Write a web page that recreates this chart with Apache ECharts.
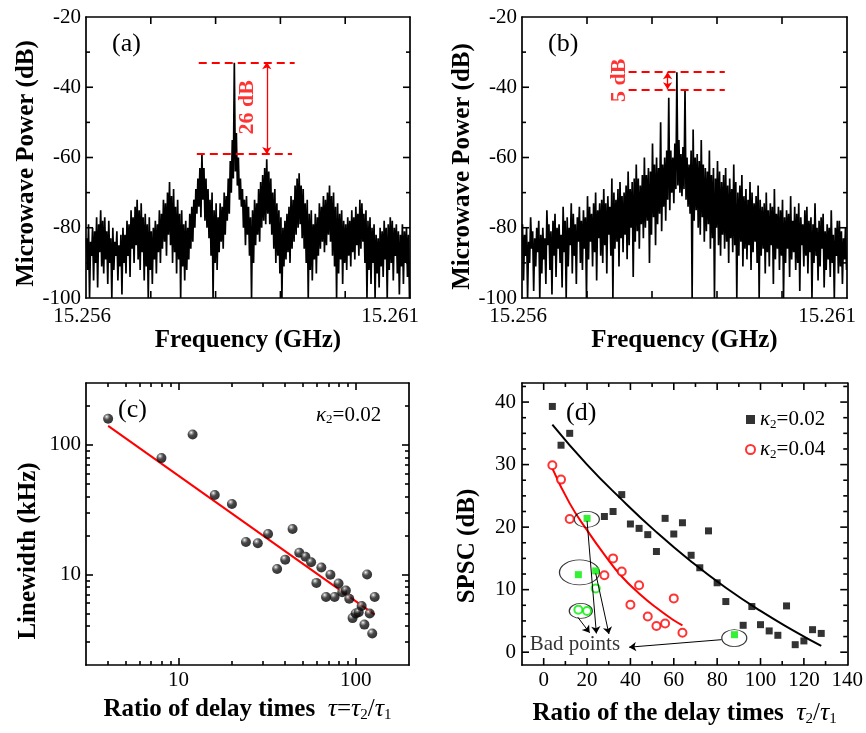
<!DOCTYPE html>
<html><head><meta charset="utf-8">
<script src="https://cdn.jsdelivr.net/npm/echarts@6/dist/echarts.min.js"></script>
<style>html,body{margin:0;padding:0;background:#fff}#c{width:866px;height:733px}</style>
</head><body><div id="c"></div>
<script>
const FONT = "'Liberation Serif','Times New Roman',Times,serif";

// ---------- Panels (a),(b): spectra ----------
const freqRange = [15.256, 15.261];
const freqTickLabels = ['15.256', '15.261'];
const powerRange = [-100, -20];
const freqTicks = [15.257, 15.258, 15.259, 15.260];
const powerMajor = [-80, -60, -40];
const powerMinor = [-90, -70, -50, -30];

const specA_hi = [
 -83,-79,-84,-80,-81,-77,-79,-75,-78,-77,
 -81,-78,-83,-80,-84,-81,-85,-82,-80,-82,
 -78,-79,-75,-77,-74,-72,-75,-73,-77,-76,
 -79,-77,-81,-80,-78,-79,-75,-76,-72,-73,
 -70,-67,-71,-69,-74,-72,-76,-75,-79,-78,
 -80,-76,-74,-72,-69,-66,-63,-59,-63,-66,
 -69,-72,-70,-75,-73,-77,-73,-74,-70,-71,
 -66,-61,-55,-33,-53,-60,-66,-69,-72,-71,
 -74,-77,-75,-72,-73,-69,-67,-65,-63,-60.5,
 -64,-66,-70,-69,-73,-75,-77,-80,-78,-76,
 -74,-71,-72,-68,-66,-64.5,-68,-69,-73,-72,
 -76,-75,-79,-76,-77,-73,-74,-71,-72,-70,
 -68,-71,-70,-74,-73,-76,-75,-78,-79,-77,
 -78,-75,-77,-74,-76,-72,-73,-76,-75,-78,
 -77,-80,-79,-82,-83,-80,-81,-78,-80,-79,
 -77,-78,-80,-79,-81,-82,-79,-81,-80,-82
];
const specA_lo = [
 -92,-100,-88,-95,-90,-97,-87,-91,-93,-89,
 -96,-90,-100,-92,-88,-95,-91,-99,-90,-93,
 -88,-94,-86,-90,-85,-89,-92,-87,-95,-91,
 -100,-92,-96,-89,-93,-87,-90,-86,-84,-88,
 -82,-85,-90,-87,-93,-89,-100,-91,-95,-92,
 -89,-86,-84,-80,-76,-74,-77,-72,-78,-80,
 -83,-88,-100,-90,-92,-87,-84,-86,-82,-78,
 -76,-70,-66,-64,-68,-72,-74,-80,-85,-82,
 -88,-100,-90,-85,-82,-84,-80,-78,-79,-76,
 -79,-82,-86,-90,-88,-93,-100,-91,-89,-87,
 -90,-86,-84,-82,-80,-79,-83,-86,-90,-100,
 -92,-95,-89,-93,-88,-86,-84,-87,-85,-82,
 -84,-88,-91,-100,-93,-89,-96,-90,-92,-88,
 -91,-87,-89,-85,-88,-86,-84,-90,-100,-92,
 -96,-90,-100,-93,-97,-91,-94,-89,-100,-92,
 -90,-95,-88,-93,-99,-91,-96,-90,-94,-100
];
const specB_hi = [
 -79,-82,-80,-84,-77,-81,-83,-80,-78,-82,
 -80,-83,-75,-79,-81,-78,-76,-80,-79,-82,
 -74,-78,-77,-80,-73,-76,-79,-77,-74,-78,
 -75,-77,-71,-74,-76,-73,-70,-75,-73,-72,
 -69,-73,-71,-74,-66,-70,-72,-69,-67,-71,
 -70,-68,-64,-69,-67,-66,-62,-66,-68,-65,
 -60,-65,-63,-64,-56,-62,-60,-63,-50,-62,
 -60,-58,-43,-58,-60,-56,-35.7,-55,-59,-57,
 -40.6,-60,-62,-58,-52,-60,-59,-61,-55,-62,
 -63,-64,-58,-65,-63,-66,-61,-64,-67,-65,
 -63,-68,-66,-69,-62,-67,-70,-68,-65,-71,
 -69,-72,-67,-70,-73,-71,-68,-72,-74,-73,
 -70,-75,-73,-74,-69,-76,-74,-75,-72,-77,
 -75,-76,-71,-78,-74,-76,-73,-77,-79,-75,
 -74,-78,-77,-79,-73,-80,-78,-77,-76,-81,
 -79,-80,-75,-82,-80,-78,-78,-81,-83,-80
];
const specB_lo = [
 -95,-88,-100,-90,-86,-98,-91,-87,-100,-93,
 -89,-96,-85,-92,-99,-88,-94,-86,-90,-97,
 -87,-100,-91,-85,-93,-88,-96,-84,-90,-92,
 -86,-100,-89,-84,-91,-87,-95,-83,-88,-90,
 -85,-93,-82,-88,-100,-86,-84,-91,-83,-87,
 -82,-89,-85,-80,-94,-84,-81,-86,-79,-83,
 -80,-78,-90,-82,-77,-85,-79,-76,-81,-74,
 -78,-72,-75,-70,-73,-69,-68,-70,-71,-69,
 -72,-74,-76,-100,-78,-75,-80,-82,-77,-84,
 -81,-79,-86,-83,-100,-80,-85,-88,-82,-86,
 -84,-90,-83,-87,-85,-100,-88,-84,-91,-86,
 -89,-85,-92,-87,-84,-90,-100,-88,-86,-93,
 -87,-91,-85,-96,-89,-86,-92,-88,-100,-90,
 -86,-94,-89,-87,-92,-90,-98,-85,-91,-88,
 -93,-87,-100,-90,-88,-95,-91,-86,-97,-92,
 -89,-94,-90,-100,-88,-93,-91,-96,-89,-92
];
// annotation (a): levels, dashed-line spans, arrow position, label position
const annoA_levels = [-32.9, -59.0];
const annoA_spans = [[15.25774, 15.25922], [15.25771, 15.25918]];
const annoA_arrowX = 15.25879;
const annoA_text = ['26 dB', 15.25849, -45.7];
// annotation (b)
const annoB_levels = [-35.7, -40.6];
const annoB_spans = [[15.25764, 15.25912], [15.25764, 15.25912]];
const annoB_arrowX = 15.25824;
const annoB_text = ['5 dB', 15.25750, -38.0];

// ---------- Panel (c) ----------
const cRangeX = [3, 200];
const cRangeY = [2, 300];
const ratioC = [4,8,12,16,20,24,28,32,36,40,44,48,52,56,60,64,68,72,76,80,84,88,92,96,100,104,108,112,116,120,124,128];
const linewidthC = [159,79,120,41,35,17.8,17.4,20.5,11.0,13.0,22.4,14.7,13.7,12.4,8.6,11.3,6.7,9.95,6.7,8.5,7.3,7.5,6.5,4.6,5.0,5.1,5.7,4.1,10.0,5.0,3.5,6.7];
const fitC = [[4,140],[128,4.9]];
const cMajor = [10, 100];
const cXMinor = [4,5,6,7,8,9,20,30,40,50,60,70,80,90];
const cYMinor = [3,4,5,6,7,8,9,20,30,40,50,60,70,80,90,200];

// ---------- Panel (d) ----------
const dRangeX = [-10, 140];
const dRangeY = [-2.05, 43.05];
const ratio02 = [4,8,12,28,32,36,40,44,48,52,56,60,64,68,72,76,80,84,92,96,100,104,108,112,116,120,124,128];
const spsc02  = [39.3,33.1,35.0,21.7,22.5,25.2,20.5,19.8,18.8,16.1,21.4,18.9,20.7,15.5,13.5,19.4,11.1,8.1,4.3,7.3,4.4,3.4,2.7,7.4,1.2,1.8,3.6,3.0];
const ratio04 = [4,8,12,28,32,36,40,44,48,52,56,60,64];
const spsc04  = [29.9,27.6,21.3,12.3,15.0,12.9,7.6,10.7,5.7,4.2,4.6,8.6,3.1];
const badRatio02 = [20,16,24,88];
const badSpsc02  = [21.4,12.4,13.0,2.8];
const badRatio04 = [16,20,24];
const badSpsc04  = [6.8,6.6,10.2];
const fit02 = [[4,36.4],[20,30.0],[36,24.4],[52,19.2],[68,14.5],[84,10.3],[100,6.6],[116,3.3],[128,1.0]];
const fit04 = [[4,29.4],[12,23.8],[20,19.5],[28,15.6],[36,12.1],[44,9.4],[52,7.1],[60,5.1],[64,4.3]];
const dXMajor = [0,20,40,60,80,100,120];
const dXMinor = [10,30,50,70,90,110,130];
const dYMajor = [0,10,20,30,40];
const dYMinor = [2.5,5,7.5,12.5,15,17.5,22.5,25,27.5,32.5,35,37.5,42.5];
const ellipseCenters = [[19.9,21.25],[16.5,12.75],[17.1,6.6],[87.9,2.25]];
const ellipseSizes = [[25,16],[40,25],[23,15],[25,17]];
const badArrows = [[[20.0,21.0],[24.3,3.0]], [[24.0,12.6],[30.1,2.9]], [[15.7,5.6],[21.2,3.1]], [[82.0,2.0],[39.4,0.8]]];
const badLabel = ['Bad points', 14.4, 1.2];

// ---------- layout ----------
const grids = [
  {left:86, top:17, width:324, height:281},
  {left:522, top:17, width:325, height:281},
  {left:86, top:383, width:323, height:282},
  {left:522, top:383, width:326, height:282}
];
const MAJ = 7, MIN = 4;

// ---------- helpers ----------
const chart = echarts.init(document.getElementById('c'), null, {renderer:'canvas'});
const labelFont = {color:'#000', fontFamily:FONT, fontSize:21};
const nameFont = {color:'#000', fontFamily:FONT, fontSize:25, fontWeight:'bold'};
const lineOn = {show:true, onZero:false, lineStyle:{color:'#000', width:1.7}};
function ax(o) {
  return Object.assign({type:'value', axisLine:lineOn, axisTick:{show:false}, minorTick:{show:false}, axisLabel:{show:false},
    splitLine:{show:false}, minorSplitLine:{show:false}}, o);
}
function spectrum(hi, lo) {
  const n = hi.length, step = (freqRange[1]-freqRange[0])/n, out = [];
  for (let i = 0; i < n; i++) {
    out.push([freqRange[0] + (i+0.25)*step, hi[i]]);
    out.push([freqRange[0] + (i+0.75)*step, lo[i]]);
  }
  return out;
}
const fmtFreq = v => { const s = v.toFixed(3); if (s===freqTickLabels[0]) return '{l|'+s+'}'; if (s===freqTickLabels[1]) return '{r|'+s+'}'; return ''; };
const freqAxisLabel = Object.assign({show:true, margin:8, showMinLabel:true, showMaxLabel:true, formatter:fmtFreq,
  rich:{l:Object.assign({padding:[0,8,0,0]}, labelFont), r:Object.assign({padding:[0,40,0,0]}, labelFont)}}, labelFont);
const kRich = {k:{fontStyle:'italic', fontSize:21, fontFamily:FONT, color:'#000'}, s:{fontSize:13, fontFamily:FONT, color:'#000', padding:[10,0,0,0]}, n:{fontSize:21, fontFamily:FONT, color:'#000'}};
const tRich = {t:{fontStyle:'italic', fontWeight:'normal', fontSize:26, fontFamily:FONT, color:'#000'}, s:{fontSize:15, fontWeight:'normal', fontFamily:FONT, color:'#000', padding:[12,0,0,0]}, n:{fontSize:25, fontWeight:'normal', fontFamily:FONT, color:'#000'}};

function specAxes(g, nameGapY, padY) {
  return {
    x: [
      ax({gridIndex:g, position:'bottom', min:freqRange[0], max:freqRange[1], interval:0.001, axisLabel:freqAxisLabel,
          name:'Frequency (GHz)', nameLocation:'middle', nameGap:27, nameTextStyle:nameFont}),
      ax({gridIndex:g, position:'top', min:freqRange[0], max:freqRange[1], interval:0.001})
    ],
    y: [
      ax({gridIndex:g, position:'left', min:powerRange[0], max:powerRange[1], interval:20,
          axisLabel:Object.assign({show:true, margin:5}, labelFont),
          name:'Microwave Power (dB)', nameLocation:'middle', nameGap:nameGapY, nameTextStyle:Object.assign({padding:[0,padY,0,0]}, nameFont)}),
      ax({gridIndex:g, position:'right', min:powerRange[0], max:powerRange[1], interval:20})
    ]
  };
}
const A = specAxes(0, 47, 12), B = specAxes(1, 42, 18);

const xAxes = [...A.x, ...B.x,
  ax({gridIndex:2, type:'log', logBase:10, position:'bottom', min:cRangeX[0], max:cRangeX[1],
      axisLabel:Object.assign({show:true, margin:5, showMinLabel:false, showMaxLabel:false}, labelFont),
      name:'Ratio of delay times  {t|τ}{n|=}{t|τ}{s|2}{n|/}{t|τ}{s|1}', nameLocation:'middle', nameGap:31,
      nameTextStyle:Object.assign({rich:tRich}, nameFont)}),
  ax({gridIndex:2, type:'log', logBase:10, position:'top', min:cRangeX[0], max:cRangeX[1]}),
  ax({gridIndex:3, position:'bottom', min:dRangeX[0], max:dRangeX[1], splitNumber:7,
      axisLabel:Object.assign({show:true, margin:5, showMinLabel:false, showMaxLabel:true}, labelFont),
      name:'Ratio of the delay times  {t|τ}{s|2}{n|/}{t|τ}{s|1}', nameLocation:'middle', nameGap:35,
      nameTextStyle:Object.assign({rich:tRich}, nameFont)}),
  ax({gridIndex:3, position:'top', min:dRangeX[0], max:dRangeX[1], splitNumber:7})
];
const yAxes = [...A.y, ...B.y,
  ax({gridIndex:2, type:'log', logBase:10, position:'left', min:cRangeY[0], max:cRangeY[1],
      axisLabel:Object.assign({show:true, margin:5, showMinLabel:false, showMaxLabel:false}, labelFont),
      name:'Linewidth (kHz)', nameLocation:'middle', nameGap:45, nameTextStyle:Object.assign({padding:[0,54,0,0]}, nameFont)}),
  ax({gridIndex:2, type:'log', logBase:10, position:'right', min:cRangeY[0], max:cRangeY[1]}),
  ax({gridIndex:3, position:'left', min:dRangeY[0], max:dRangeY[1], splitNumber:4,
      axisLabel:Object.assign({show:true, margin:6, showMinLabel:false, showMaxLabel:false}, labelFont),
      name:'SPSC (dB)', nameLocation:'middle', nameGap:42, nameTextStyle:Object.assign({padding:[0,44,0,0]}, nameFont)}),
  ax({gridIndex:3, position:'right', min:dRangeY[0], max:dRangeY[1], splitNumber:4})
];

function annoLines(levels, spans, arrowX) {
  const dash = {color:'#ff0000', width:1.8, type:[8,5]};
  const solid = {color:'#ff0000', width:1.3, type:'solid'};
  return {
    silent:true, animation:false, symbol:['none','none'], symbolSize:7, label:{show:false},
    data:[
      [{coord:[spans[0][0], levels[0]], lineStyle:dash}, {coord:[spans[0][1], levels[0]]}],
      [{coord:[spans[1][0], levels[1]], lineStyle:dash}, {coord:[spans[1][1], levels[1]]}],
      [{coord:[arrowX, levels[0]], symbol:'arrow', lineStyle:solid}, {coord:[arrowX, levels[1]], symbol:'arrow'}]
    ]
  };
}
function textSeries(xi, yi, t) {
  return {type:'scatter', xAxisIndex:xi, yAxisIndex:yi, symbolSize:0, silent:true, z:5,
    data:[[t[1], t[2]]],
    label:{show:true, position:'inside', formatter:t[0], rotate:90, color:'#ff0000', fontFamily:FONT, fontSize:22, fontWeight:'bold'}};
}

// log-panel (c) tick marks: drawn as markLine segments in data space; a pixel length
// is turned into a multiplicative step along each log axis
const gC = grids[2];
const fxC = len => Math.pow(10, len * Math.log10(cRangeX[1]/cRangeX[0]) / gC.width);
const fyC = len => Math.pow(10, len * Math.log10(cRangeY[1]/cRangeY[0]) / gC.height);
const cTickSegs = [];
[[cMajor, MAJ], [cXMinor, MIN]].forEach(([vals, len]) => vals.forEach(v => {
  cTickSegs.push([{coord:[v, cRangeY[0]]}, {coord:[v, cRangeY[0]*fyC(len)]}]);
  cTickSegs.push([{coord:[v, cRangeY[1]]}, {coord:[v, cRangeY[1]/fyC(len)]}]);
}));
[[cMajor, MAJ], [cYMinor, MIN]].forEach(([vals, len]) => vals.forEach(v => {
  cTickSegs.push([{coord:[cRangeX[0], v]}, {coord:[cRangeX[0]*fxC(len), v]}]);
  cTickSegs.push([{coord:[cRangeX[1], v]}, {coord:[cRangeX[1]/fxC(len), v]}]);
}));

const series = [
  {type:'line', xAxisIndex:0, yAxisIndex:0, data:spectrum(specA_hi, specA_lo), showSymbol:false, symbol:'none',
   lineStyle:{color:'#000', width:1.7}, silent:true, markLine:annoLines(annoA_levels, annoA_spans, annoA_arrowX)},
  textSeries(0, 0, annoA_text),
  {type:'line', xAxisIndex:2, yAxisIndex:2, data:spectrum(specB_hi, specB_lo), showSymbol:false, symbol:'none',
   lineStyle:{color:'#000', width:1.7}, silent:true, markLine:annoLines(annoB_levels, annoB_spans, annoB_arrowX)},
  textSeries(2, 2, annoB_text),
  {type:'line', xAxisIndex:4, yAxisIndex:4, data:fitC, showSymbol:false, symbol:'none', lineStyle:{color:'#ff0000', width:2}, z:2,
   markLine:{silent:true, animation:false, symbol:['none','none'], label:{show:false},
     lineStyle:{color:'#000', width:1.6, type:'solid'}, data:cTickSegs}},
  {type:'scatter', xAxisIndex:4, yAxisIndex:4, data:ratioC.map((x,i)=>[x, linewidthC[i]]), symbolSize:10, z:3,
   itemStyle:{color:{type:'radial', x:0.36, y:0.3, r:0.72, colorStops:[{offset:0,color:'#ffffff'},{offset:0.18,color:'#8a8a8a'},{offset:0.45,color:'#1a1a1a'},{offset:1,color:'#000'}]}}},
  {type:'line', xAxisIndex:6, yAxisIndex:6, data:fit02, smooth:true, showSymbol:false, symbol:'none', lineStyle:{color:'#000', width:2}, z:2},
  {type:'line', xAxisIndex:6, yAxisIndex:6, data:fit04, smooth:true, showSymbol:false, symbol:'none', lineStyle:{color:'#ff0000', width:2}, z:2},
  {type:'scatter', xAxisIndex:6, yAxisIndex:6, z:2, silent:true,
   data:ellipseCenters.map((c,i)=>({value:c, symbolSize:ellipseSizes[i]})), symbol:'circle',
   itemStyle:{color:'rgba(0,0,0,0)', borderColor:'#000', borderWidth:1},
   markLine:{silent:true, animation:false, symbol:['none','arrow'], symbolSize:7, label:{show:false},
     lineStyle:{color:'#000', width:1, type:'solid'},
     data:badArrows.map(a=>[{coord:a[0]},{coord:a[1]}])}},
  {name:'κ2=0.02', type:'scatter', xAxisIndex:6, yAxisIndex:6, data:ratio02.map((x,i)=>[x, spsc02[i]]), symbol:'rect', symbolSize:7, z:4, itemStyle:{color:'#000'}},
  {name:'κ2=0.04', type:'scatter', xAxisIndex:6, yAxisIndex:6, data:ratio04.map((x,i)=>[x, spsc04[i]]), symbol:'emptyCircle', symbolSize:8, z:4, itemStyle:{color:'#ff0000', borderWidth:1.5}},
  {type:'scatter', xAxisIndex:6, yAxisIndex:6, data:badRatio02.map((x,i)=>[x, badSpsc02[i]]), symbol:'rect', symbolSize:7, z:4, itemStyle:{color:'#00ee00'}},
  {type:'scatter', xAxisIndex:6, yAxisIndex:6, data:badRatio04.map((x,i)=>[x, badSpsc04[i]]), symbol:'emptyCircle', symbolSize:8, z:4, itemStyle:{color:'#00ee00', borderWidth:1.5}},
  {type:'scatter', xAxisIndex:6, yAxisIndex:6, symbolSize:0, silent:true, z:5, data:[[badLabel[1], badLabel[2]]],
   label:{show:true, position:'inside', formatter:badLabel[0], color:'#000', fontFamily:FONT, fontSize:21}}
];

const kFmt = name => '{k|κ}{s|2}{n|' + name.slice(2) + '}';
const textGraphics = [
  {type:'text', x:112, y:44, style:{text:'(a)', font:'26px '+FONT, fill:'#000', verticalAlign:'middle'}},
  {type:'text', x:548, y:44, style:{text:'(b)', font:'26px '+FONT, fill:'#000', verticalAlign:'middle'}},
  {type:'text', x:118, y:410, style:{text:'(c)', font:'26px '+FONT, fill:'#000', verticalAlign:'middle'}},
  {type:'text', x:566, y:413, style:{text:'(d)', font:'26px '+FONT, fill:'#000', verticalAlign:'middle'}},
  {type:'text', x:316, y:415, style:{text:'{k|κ}{s|2}{n|=0.02}', rich:kRich, verticalAlign:'middle'}}
];

chart.setOption({
  animation:false,
  backgroundColor:'#fff',
  grid:grids,
  xAxis:xAxes, yAxis:yAxes, series:series,
  legend:{data:['κ2=0.02','κ2=0.04'], orient:'vertical', left:740, top:404, itemGap:8, itemWidth:9, itemHeight:9,
    formatter:kFmt, textStyle:{fontFamily:FONT, fontSize:21, color:'#000', rich:kRich}, selectedMode:false},
  graphic:{elements:textGraphics}
});

// inside tick marks on all four sides of the linear panels, placed through each panel's axes (convertToPixel)
const tickEls = [];
function tl(x1, y1, x2, y2) { tickEls.push({type:'line', silent:true, z:20, shape:{x1:x1, y1:y1, x2:x2, y2:y2}, style:{stroke:'#000', lineWidth:1.6}}); }
function okPt(p) { return p && isFinite(p[0]) && isFinite(p[1]); }
function addTicks(idx, xr, yr, xList, yList) {
  const f = {xAxisIndex:idx, yAxisIndex:idx};
  xList.forEach(([vals, len]) => vals.forEach(v => {
    const b = chart.convertToPixel(f, [v, yr[0]]), t = chart.convertToPixel(f, [v, yr[1]]);
    if (!okPt(b) || !okPt(t)) return;
    tl(b[0], b[1], b[0], b[1]-len); tl(t[0], t[1], t[0], t[1]+len);
  }));
  yList.forEach(([vals, len]) => vals.forEach(v => {
    const l = chart.convertToPixel(f, [xr[0], v]), r = chart.convertToPixel(f, [xr[1], v]);
    if (!okPt(l) || !okPt(r)) return;
    tl(l[0], l[1], l[0]+len, l[1]); tl(r[0], r[1], r[0]-len, r[1]);
  }));
}
try {
  addTicks(0, freqRange, powerRange, [[freqTicks, MAJ]], [[powerMajor, MAJ], [powerMinor, MIN]]);
  addTicks(2, freqRange, powerRange, [[freqTicks, MAJ]], [[powerMajor, MAJ], [powerMinor, MIN]]);
  addTicks(6, dRangeX, dRangeY, [[dXMajor, MAJ], [dXMinor, MIN]], [[dYMajor, MAJ], [dYMinor, MIN]]);
} catch (e) { console.error(e); }
chart.setOption({graphic:{elements:textGraphics.concat(tickEls)}});
</script></body></html>
